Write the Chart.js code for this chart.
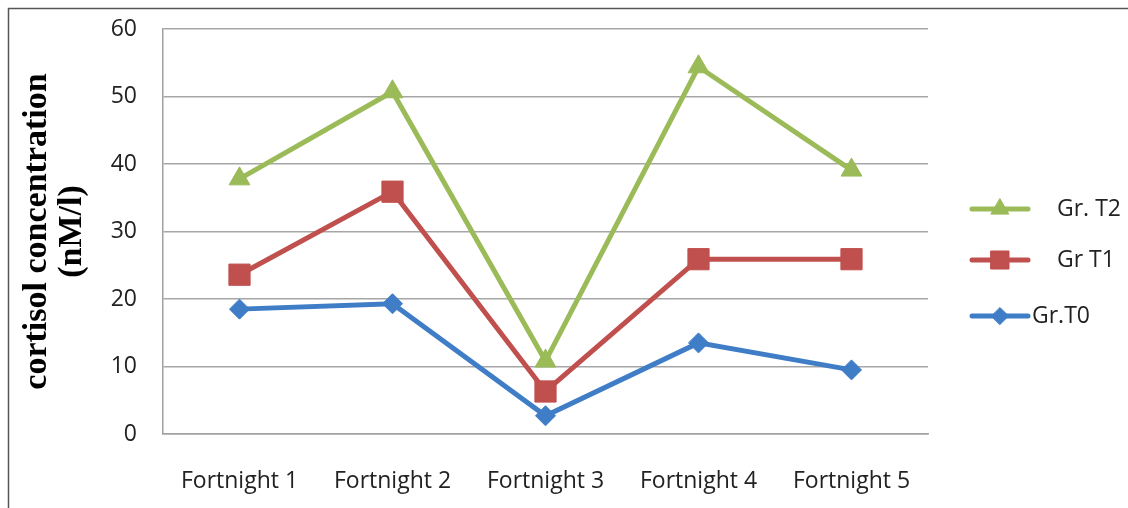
<!DOCTYPE html>
<html>
<head>
<meta charset="utf-8">
<script src="https://cdn.jsdelivr.net/npm/chart.js@4/dist/chart.umd.min.js"></script>
<style>
html,body{margin:0;padding:0;background:#fff;}
#wrap{width:1128px;height:508px;position:relative;}
</style>
</head>
<body>
<div id="wrap"><canvas id="c" width="1128" height="508"></canvas></div>
<script>
const categories = ['Fortnight 1','Fortnight 2','Fortnight 3','Fortnight 4','Fortnight 5'];
const seriesNames = ['Gr. T2','Gr T1','Gr.T0'];
const grT2 = [37.8, 50.7, 10.8, 54.4, 39.1];
const grT1 = [23.6, 35.9, 6.3, 25.9, 25.9];
const grT0 = [18.5, 19.3, 2.7, 13.5, 9.5];
const yTicks = [0, 10, 20, 30, 40, 50, 60];

const colors = ['#9BBB59', '#C0504D', '#3F7DC6'];
const shapes = ['triangle', 'rect', 'rectRot'];
const radii = [12, 15, 10];
const values = [grT2, grT1, grT0];

const tickFont = {family: 'Open Sans', size: 23};

const outerBorder = {
  id: 'outerBorder',
  beforeDraw(chart) {
    const ctx = chart.ctx;
    ctx.save();
    ctx.fillStyle = '#fff';
    ctx.fillRect(0, 0, chart.width, chart.height);
    ctx.strokeStyle = '#555';
    ctx.lineWidth = 1.5;
    ctx.beginPath();
    ctx.moveTo(8.5, 508);
    ctx.lineTo(8.5, 8.5);
    ctx.lineTo(1128, 8.5);
    ctx.stroke();
    ctx.restore();
  }
};

const customLegend = {
  id: 'customLegend',
  afterDraw(chart) {
    const ctx = chart.ctx;
    const ys = [209, 260, 316];
    const textX = [1057, 1057, 1032];
    ctx.save();
    chart.data.datasets.forEach((ds, i) => {
      const y = ys[i];
      ctx.strokeStyle = ds.borderColor;
      ctx.lineWidth = 5;
      ctx.lineCap = 'round';
      ctx.beginPath();
      ctx.moveTo(972, y);
      ctx.lineTo(1028, y);
      ctx.stroke();
      ctx.fillStyle = ds.backgroundColor;
      ctx.strokeStyle = ds.borderColor;
      ctx.lineWidth = 1;
      Chart.helpers.drawPoint(ctx, {pointStyle: ds.pointStyle, radius: ds.pointRadius * 0.85, borderWidth: 1}, 1000, y);
      ctx.fillStyle = '#222';
      ctx.font = '23px "Open Sans"';
      ctx.textBaseline = 'middle';
      ctx.textAlign = 'left';
      ctx.fillText(ds.label, textX[i], y);
    });
    ctx.restore();
  }
};

new Chart(document.getElementById('c'), {
  type: 'line',
  data: {
    labels: categories,
    datasets: seriesNames.map((name, i) => ({
      label: name,
      data: values[i],
      borderColor: colors[i],
      backgroundColor: colors[i],
      borderWidth: 5,
      pointStyle: shapes[i],
      pointRadius: radii[i],
      pointHoverRadius: radii[i],
      pointBorderWidth: 1,
      tension: 0,
      order: 3 - i
    }))
  },
  options: {
    responsive: false,
    animation: false,
    events: [],
    layout: {padding: {left: 0, right: 200, top: 29, bottom: 0}},
    plugins: {legend: {display: false}, tooltip: {enabled: false}},
    scales: {
      x: {
        type: 'category',
        offset: true,
        grid: {display: false, drawTicks: false},
        border: {display: true, color: '#a0a0a0', width: 1.5},
        ticks: {font: tickFont, color: '#222', padding: 34, maxRotation: 0, autoSkip: false},
        afterFit(scale) { scale.height = 74; }
      },
      y: {
        min: 0,
        max: 60,
        afterBuildTicks(scale) { scale.ticks = yTicks.map(v => ({value: v})); },
        grid: {color: '#a6a6a6', lineWidth: 1.5, drawTicks: false},
        border: {display: true, color: '#a0a0a0', width: 1.5},
        ticks: {font: tickFont, color: '#222', padding: 26},
        title: {
          display: true,
          text: ['cortisol concentration', '(nM/l)'],
          font: {family: 'Liberation Serif', size: 34, weight: 'bold', lineHeight: 1.05},
          color: '#000',
          padding: {top: 19, bottom: 0}
        },
        afterFit(scale) { scale.width = 163; scale.paddingTop = 0; scale.paddingBottom = 0; }
      }
    }
  },
  plugins: [outerBorder, customLegend]
});
</script>
</body>
</html>
